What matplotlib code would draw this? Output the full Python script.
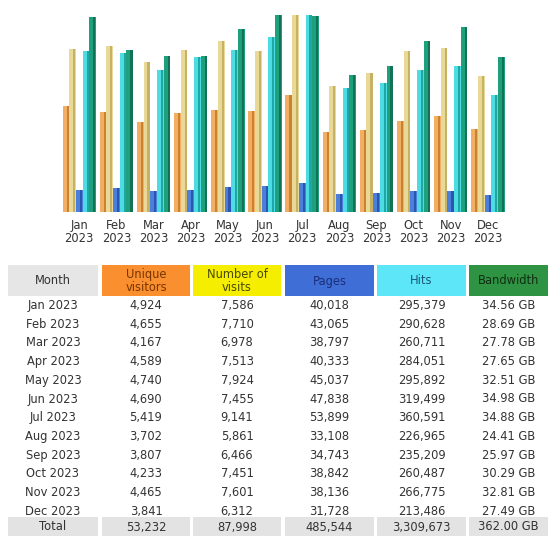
import matplotlib
matplotlib.use("Agg")
import matplotlib.pyplot as plt
from matplotlib.patches import Rectangle

months = ["Jan", "Feb", "Mar", "Apr", "May", "Jun", "Jul", "Aug", "Sep", "Oct", "Nov", "Dec"]
year = "2023"
unique_visitors = [4924, 4655, 4167, 4589, 4740, 4690, 5419, 3702, 3807, 4233, 4465, 3841]
visits = [7586, 7710, 6978, 7513, 7924, 7455, 9141, 5861, 6466, 7451, 7601, 6312]
pages = [40018, 43065, 38797, 40333, 45037, 47838, 53899, 33108, 34743, 38842, 38136, 31728]
hits = [295379, 290628, 260711, 284051, 295892, 319499, 360591, 226965, 235209, 260487, 266775, 213486]
bandwidth_gb = [34.56, 28.69, 27.78, 27.65, 32.51, 34.98, 34.88, 24.41, 25.97, 30.29, 32.81, 27.49]
totals = ["53,232", "87,998", "485,544", "3,309,673", "362.00 GB"]
headers = ["Month", "Unique\nvisitors", "Number of\nvisits", "Pages", "Hits", "Bandwidth"]

W, H = 550, 536
fig = plt.figure(figsize=(W / 100, H / 100), dpi=100)

# ---- bar chart ----
L, R = 60.7, 60.7 + 445.8
top, base = 15, 212
ax = fig.add_axes([L / W, 1 - base / H, (R - L) / W, (base - top) / H])
ax.set_xlim(-0.5, 11.5)
ax.set_ylim(0, 1)
ax.axis("off")

vmax = max(visits)
hmax = max(hits)
bmax = max(bandwidth_gb)
series = [
    ([u / vmax for u in unique_visitors], "#F2AE62", "#C9822E"),
    ([v / vmax for v in visits], "#E9D897", "#C6B263"),
    ([p / hmax for p in pages], "#4C7FDA", "#2A55B0"),
    ([h / hmax for h in hits], "#4DDCE4", "#1FA7A5"),
    ([b / bmax for b in bandwidth_gb], "#1FA07C", "#117255"),
]
bw = 0.18
x = list(range(len(months)))
for k, (vals, c1, c2) in enumerate(series):
    off = (k - 2) * bw
    ax.bar([i + off for i in x], vals, width=bw, color=c1, align="center", linewidth=0)
    ax.bar([i + off + bw * 0.25 for i in x], vals, width=bw * 0.32, color=c2,
           align="center", linewidth=0)

for i, m in enumerate(months):
    ax.text(i, -0.035, f"{m}\n{year}", ha="center", va="top", fontsize=8.3,
            color="#333333", linespacing=1.05, transform=ax.transData, clip_on=False)

# ---- table ----
tx = fig.add_axes([0, 0, 1, 1])
tx.set_xlim(0, W)
tx.set_ylim(H, 0)
tx.axis("off")

cols = [(8, 98), (102, 190), (193, 281), (285, 374), (377, 466), (469, 548)]
hdr_bg = ["#E6E6E6", "#F98F2E", "#F6EE00", "#3F6ED6", "#5DE6F7", "#2E9443"]
hdr_fg = ["#333333", "#7A3500", "#4A4A00", "#1A2F7A", "#185B78", "#0F2E12"]
for (a, b), bg, fg, t in zip(cols, hdr_bg, hdr_fg, headers):
    tx.add_patch(Rectangle((a, 265), b - a, 31, color=bg, linewidth=0))
    tx.text((a + b) / 2, 281, t, ha="center", va="center", fontsize=8.3, color=fg,
            linespacing=0.95)

rows = []
for i, m in enumerate(months):
    rows.append([f"{m} {year}", f"{unique_visitors[i]:,}", f"{visits[i]:,}",
                 f"{pages[i]:,}", f"{hits[i]:,}", f"{bandwidth_gb[i]:.2f} GB"])
y0, dy = 305.5, 18.7
for r, row in enumerate(rows):
    y = y0 + r * dy
    for (a, b), t in zip(cols, row):
        tx.text((a + b) / 2, y, t, ha="center", va="center", fontsize=8.3, color="#333333")

for (a, b) in cols:
    tx.add_patch(Rectangle((a, 517), b - a, 20, color="#E3E3E3", linewidth=0))
for (a, b), t in zip(cols, ["Total"] + totals):
    tx.text((a + b) / 2, 527, t, ha="center", va="center", fontsize=8.3, color="#333333")

fig.savefig("out.png", dpi=100)
